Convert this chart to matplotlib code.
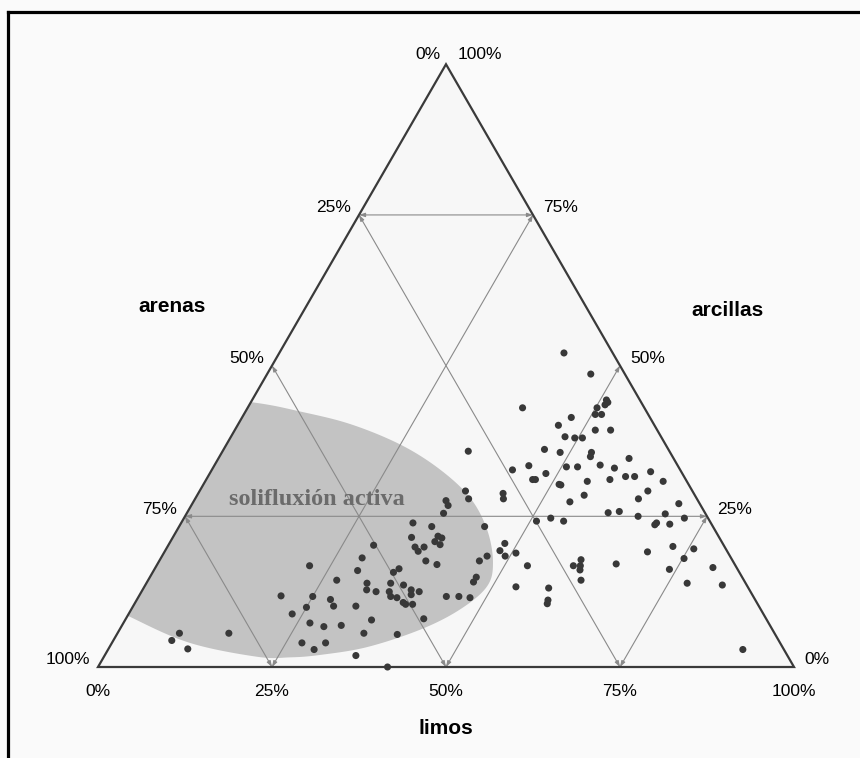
import numpy as np
import matplotlib
matplotlib.use("Agg")
import matplotlib.pyplot as plt
from matplotlib.patches import Polygon
from matplotlib.lines import Line2D

# --- sample compositions (% by weight) ---
arcillas = [5.6, 4.4, 3.0, 29.2, 27.9, 27.6, 26.8, 25.5, 23.9, 23.3,
            23.3, 21.5, 21.7, 21.4, 20.8, 20.3, 19.9, 19.9, 19.2, 20.2,
            17.6, 17.0, 17.6, 18.4, 19.3, 18.1, 16.0, 15.7, 16.3, 16.8,
            14.4, 14.9, 14.1, 13.9, 13.9, 13.6, 12.8, 12.5, 12.5, 12.8,
            12.0, 12.5, 11.7, 11.5, 11.8, 11.7, 11.2, 10.1, 9.9, 10.1,
            10.7, 10.4, 10.4, 11.7, 11.7, 11.5, 8.8, 8.0, 7.8, 7.3,
            6.7, 6.9, 5.6, 5.4, 5.6, 4.0, 4.0, 2.9, 1.9, 0.0,
            35.8, 32.7, 33.4, 31.1, 31.1, 28.8, 27.9, 24.2, 20.5, 18.4,
            18.9, 16.8, 13.3, 52.1, 48.6, 43.0, 44.3, 43.5, 43.9, 43.0,
            41.9, 41.9, 41.4, 40.1, 39.3, 39.3, 38.2, 38.0, 38.0, 36.1,
            35.6, 35.6, 34.9, 34.6, 33.2, 33.2, 33.5, 33.0, 32.1, 31.6,
            31.6, 32.4, 30.8, 31.1, 30.8, 30.3, 30.2, 28.5, 29.2, 27.9,
            27.4, 27.1, 25.6, 25.8, 24.7, 24.2, 25.0, 25.4, 23.9, 23.6,
            23.7, 24.7, 20.0, 19.6, 19.1, 18.0, 17.8, 16.8, 16.8, 16.1,
            17.1, 16.2, 16.5, 14.4, 13.9, 13.6, 2.9, 13.1, 11.1, 10.5]
limos = [8.9, 8.4, 11.4, 38.2, 39.3, 36.2, 36.9, 36.9, 33.3, 36.3,
         43.9, 34.3, 38.0, 38.7, 38.0, 39.0, 35.6, 36.9, 36.4, 29.5,
         38.3, 40.2, 46.0, 46.7, 48.1, 28.9, 29.3, 34.6, 35.1, 22.0,
         27.1, 46.9, 46.9, 31.7, 35.1, 37.1, 32.2, 33.7, 35.6, 38.6,
         39.0, 39.9, 36.2, 37.2, 20.4, 25.0, 27.8, 28.8, 25.0, 32.0,
         38.5, 39.0, 40.0, 44.2, 46.0, 47.7, 23.5, 42.8, 35.4, 26.8,
         29.1, 31.5, 35.4, 40.3, 16.0, 27.3, 30.7, 29.6, 36.1, 41.6,
         35.3, 43.2, 45.2, 46.9, 47.3, 43.8, 44.3, 50.9, 48.2, 49.3,
         50.6, 53.3, 53.4, 40.9, 46.5, 39.5, 50.9, 51.1, 51.3, 50.2,
         50.5, 51.4, 47.3, 46.1, 51.8, 54.0, 48.0, 49.5, 50.6, 46.1,
         48.6, 53.1, 53.3, 59.0, 50.7, 52.3, 55.4, 57.7, 48.3, 60.0,
         61.3, 63.2, 54.9, 58.0, 65.8, 51.1, 51.4, 55.6, 64.4, 63.7,
         54.1, 69.9, 60.5, 62.0, 52.7, 54.8, 65.1, 68.8, 68.3, 68.2,
         70.3, 71.9, 72.6, 75.8, 69.4, 75.2, 60.5, 59.9, 60.9, 61.2,
         65.9, 74.0, 80.1, 62.2, 77.7, 82.9, 91.2, 58.2, 59.1, 59.3]
arenas = [100 - a - l for a, l in zip(arcillas, limos)]

# percentage scale shown on the three sides
tick_values = [0, 25, 50, 75, 100]
tick_labels = ["0%", "25%", "50%", "75%", "100%"]

# outline of the active solifluction field (limos %, arcillas %)
region_limos = [0.3, 7.8, 16.1, 25.0, 32.7, 39.4, 44.5, 48.1, 49.2, 47.2,
                43.2, 37.0, 30.9, 26.8, 22.0, 11.2, 0.5, -10.8, -20.1, -18.9,
                -12.3]
region_arcillas = [43.9, 42.4, 40.3, 36.9, 32.8, 28.1, 22.8, 17.3, 13.3, 9.5,
                   6.2, 3.3, 2.0, 1.6, 1.7, 4.0, 8.3, 13.6, 27.8, 41.1,
                   45.3]

H = np.sqrt(3) / 2


def to_xy(limo, arcilla):
    """Ternary composition -> cartesian position inside the unit triangle."""
    l = np.asarray(limo, dtype=float) / 100.0
    a = np.asarray(arcilla, dtype=float) / 100.0
    return l + a / 2.0, a * H


def closed_spline(xs, ys, n=24):
    pts = np.column_stack([xs, ys])
    N = len(pts)
    t = np.linspace(0, 1, n, endpoint=False)[:, None]
    segs = []
    for i in range(N):
        p0, p1, p2, p3 = pts[(i - 1) % N], pts[i], pts[(i + 1) % N], pts[(i + 2) % N]
        segs.append(0.5 * (2 * p1 + (-p0 + p2) * t
                           + (2 * p0 - 5 * p1 + 4 * p2 - p3) * t ** 2
                           + (-p0 + 3 * p1 - 3 * p2 + p3) * t ** 3))
    return np.vstack(segs)


W, Hpx = 860, 758
fig = plt.figure(figsize=(W / 100, Hpx / 100), dpi=100)
fig.patch.set_facecolor("#fafafa")
ax = fig.add_axes([0, 0, 1, 1])
scale = 696.0
ax.set_xlim(-98 / scale, (W - 98) / scale)
ax.set_ylim(-(Hpx - 667) / scale, 667 / scale)
ax.axis("off")

# outer frame (top and left)
fig.add_artist(Line2D([7.5 / W, 7.5 / W], [0, 1 - 11.5 / Hpx], transform=fig.transFigure,
                      color="black", lw=2.3, solid_capstyle="projecting"))
fig.add_artist(Line2D([7.5 / W, 1], [1 - 11.5 / Hpx, 1 - 11.5 / Hpx], transform=fig.transFigure,
                      color="black", lw=2.3, solid_capstyle="projecting"))

corners = np.array([[0, 0], [1, 0], [0.5, H]])
tri_fill = Polygon(corners, closed=True, facecolor="#f7f7f7", edgecolor="none", zorder=1)
ax.add_patch(tri_fill)

# solifluction field, clipped to the triangle
rx, ry = to_xy(region_limos, region_arcillas)
outline = closed_spline(rx, ry)
region = Polygon(outline, closed=True, facecolor="#c3c3c3", edgecolor="none", zorder=2)
ax.add_patch(region)
region.set_clip_path(tri_fill)

# reading lines with small arrow tips
arrow_kw = dict(arrowstyle="<|-|>,head_length=0.35,head_width=0.12", color="#8a8a8a",
                lw=0.8, shrinkA=0, shrinkB=0)


def guide(p, q):
    ax.annotate("", xy=q, xytext=p, arrowprops=arrow_kw, zorder=3)


for k in tick_values[1:-1]:
    # constant limos
    guide(to_xy(k, 0), to_xy(k, 100 - k))
    # constant arenas
    guide(to_xy(100 - k, 0), to_xy(0, 100 - k))
for k in (25, 75):
    # constant arcillas
    guide(to_xy(0, k), to_xy(100 - k, k))

ax.add_patch(Polygon(corners, closed=True, facecolor="none", edgecolor="#3a3a3a",
                     lw=1.6, zorder=4, joinstyle="miter"))

# samples
px, py = to_xy(limos, arcillas)
ax.scatter(px, py, s=26, color="#383838", edgecolors="none", zorder=5)

tick_font = dict(fontsize=12.5, family="Liberation Sans", color="black")
for v, lab in zip(tick_values, tick_labels):
    # arenas on the left side (100% at bottom-left)
    pos = to_xy(0, 100 - v)
    off = (-6, 10) if v == 0 else (-8, 7)
    ax.annotate(lab, xy=pos, xytext=off, textcoords="offset pixels",
                ha="right", va="center", **tick_font)
    # arcillas on the right side
    pos = to_xy(100 - v, v)
    off = (12, 10) if v == 100 else (10, 7)
    ax.annotate(lab, xy=pos, xytext=off, textcoords="offset pixels",
                ha="left", va="center", **tick_font)
    # limos along the base
    ax.annotate(lab, xy=to_xy(v, 0), xytext=(0, -25), textcoords="offset pixels",
                ha="center", va="center", **tick_font)

title_font = dict(fontsize=15, family="Liberation Sans", fontweight="bold", color="black")
ax.text(74 / scale, 361 / scale, "arenas", ha="center", va="center", **title_font)
ax.text(629 / scale, 356 / scale, "arcillas", ha="center", va="center", **title_font)
ax.text(348 / scale, -62 / scale, "limos", ha="center", va="center", **title_font)

ax.text(219 / scale, 162 / scale, "solifluxión activa", ha="center", va="baseline",
        fontsize=17.5, family="Liberation Serif", fontweight="bold", color="#6b6b6b", zorder=3)

fig.savefig("out.png", dpi=100, facecolor=fig.get_facecolor())
